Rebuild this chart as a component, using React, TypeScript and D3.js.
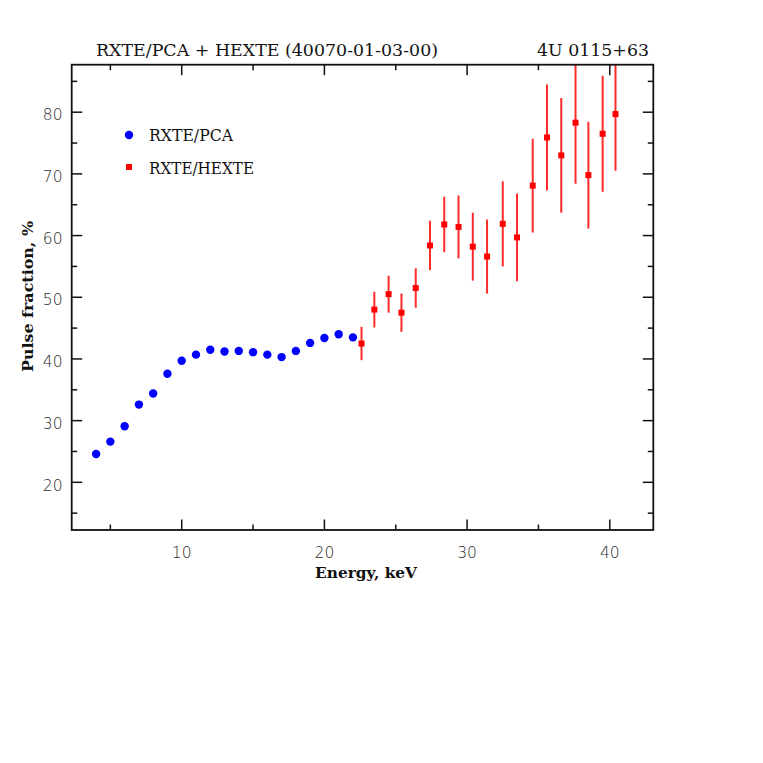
import React from "react";
import * as d3 from "d3";

const pcaEnergy = [4, 5, 6, 7, 8, 9, 10, 11, 12, 13, 14, 15, 16, 17, 18, 19, 20, 21, 22];
const pcaFraction = [24.6, 26.6, 29.1, 32.6, 34.4, 37.6, 39.7, 40.7, 41.5, 41.2, 41.3, 41.1, 40.7, 40.3, 41.3, 42.6, 43.4, 44.0, 43.5];

const hexteEnergy = [22.6, 23.5, 24.5, 25.4, 26.4, 27.4, 28.4, 29.4, 30.4, 31.4, 32.5, 33.5, 34.6, 35.6, 36.6, 37.6, 38.5, 39.5, 40.4];
const hexteFraction = [42.5, 48.0, 50.5, 47.5, 51.5, 58.4, 61.8, 61.4, 58.2, 56.6, 61.9, 59.7, 68.1, 75.9, 73.0, 78.3, 69.8, 76.5, 79.7];
const hexteError = [2.7, 2.9, 3.0, 3.1, 3.2, 4.0, 4.5, 5.1, 5.5, 6.0, 6.9, 7.1, 7.6, 8.6, 9.3, 9.9, 8.65, 9.4, 9.2];

const xMajor = [10, 20, 30, 40];
const xMinor = [5, 15, 25, 35];
const yMajor = [20, 30, 40, 50, 60, 70, 80];
const yMinor = [15, 25, 35, 45, 55, 65, 75, 85];

const titleLeft = "RXTE/PCA + HEXTE (40070-01-03-00)";
const titleRight = "4U 0115+63";
const xLabel = "Energy, keV";
const yLabel = "Pulse fraction, %";
const legendLabels = ["RXTE/PCA", "RXTE/HEXTE"];

export default function App() {
  const L = 71.7, R = 653.3, T = 64.7, B = 530;
  const x = d3.scaleLinear().domain([2.29, 43.05]).range([L, R]);
  const y = d3.scaleLinear().domain([12.27, 87.7]).range([B, T]);
  const serif = "'DejaVu Serif', serif";
  const sans = "'DejaVu Sans', sans-serif";
  const majorLen = 10.5, minorLen = 5.5;
  const axisColor = "#111";
  const tickLabelColor = "#2a2a2a";

  return (
    <svg width={763} height={763} style={{ position: "absolute", left: 0, top: 0, background: "#fff" }}>
      <defs>
        <clipPath id="plotClip">
          <rect x={L} y={T} width={R - L} height={B - T} />
        </clipPath>
      </defs>
      <rect x={0} y={0} width={763} height={763} fill="#fff" />

      {/* Title */}
      <text x={96} y={56} fontFamily={serif} fontSize={17.5} fill="#111" textLength={342} lengthAdjust="spacingAndGlyphs">{titleLeft}</text>
      <text x={537} y={56} fontFamily={serif} fontSize={17.5} fill="#111" textLength={112} lengthAdjust="spacingAndGlyphs">{titleRight}</text>

      {/* Ticks */}
      {xMajor.map((v) => (
        <g key={"xM" + v}>
          <line x1={x(v)} x2={x(v)} y1={B} y2={B - majorLen} stroke={axisColor} strokeWidth={1.5} />
          <line x1={x(v)} x2={x(v)} y1={T} y2={T + majorLen} stroke={axisColor} strokeWidth={1.5} />
          <text x={x(v)} y={558} textAnchor="middle" fontFamily={sans} fontSize={15.5} fontWeight={300} fill={tickLabelColor}>{v}</text>
        </g>
      ))}
      {xMinor.map((v) => (
        <g key={"xm" + v}>
          <line x1={x(v)} x2={x(v)} y1={B} y2={B - minorLen} stroke={axisColor} strokeWidth={1.5} />
          <line x1={x(v)} x2={x(v)} y1={T} y2={T + minorLen} stroke={axisColor} strokeWidth={1.5} />
        </g>
      ))}
      {yMajor.map((v) => (
        <g key={"yM" + v}>
          <line x1={L} x2={L + majorLen} y1={y(v)} y2={y(v)} stroke={axisColor} strokeWidth={1.5} />
          <line x1={R} x2={R - majorLen} y1={y(v)} y2={y(v)} stroke={axisColor} strokeWidth={1.5} />
          <text x={62.5} y={y(v) + 8.2} textAnchor="end" fontFamily={sans} fontSize={15.5} fontWeight={300} fill={tickLabelColor}>{v}</text>
        </g>
      ))}
      {yMinor.map((v) => (
        <g key={"ym" + v}>
          <line x1={L} x2={L + minorLen} y1={y(v)} y2={y(v)} stroke={axisColor} strokeWidth={1.5} />
          <line x1={R} x2={R - minorLen} y1={y(v)} y2={y(v)} stroke={axisColor} strokeWidth={1.5} />
        </g>
      ))}

      {/* HEXTE error bars */}
      <g clipPath="url(#plotClip)">
        {hexteEnergy.map((e, i) => (
          <line key={"eb" + i} x1={x(e)} x2={x(e)} y1={y(hexteFraction[i] - hexteError[i])} y2={y(hexteFraction[i] + hexteError[i])} stroke="#ff2a2a" strokeWidth={2} />
        ))}
      </g>

      {/* PCA points */}
      {pcaEnergy.map((e, i) => (
        <circle key={"p" + i} cx={x(e)} cy={y(pcaFraction[i])} r={4.2} fill="#0000ff" />
      ))}

      {/* HEXTE points */}
      {hexteEnergy.map((e, i) => (
        <rect key={"h" + i} x={x(e) - 3} y={y(hexteFraction[i]) - 3} width={6} height={6} fill="#ff0000" />
      ))}

      {/* Frame */}
      <rect x={L} y={T} width={R - L} height={B - T} fill="none" stroke={axisColor} strokeWidth={1.8} />

      {/* Legend */}
      <circle cx={129} cy={135} r={4.2} fill="#0000ff" />
      <text x={149} y={141} fontFamily={serif} fontSize={16.5} fill="#111" textLength={84} lengthAdjust="spacingAndGlyphs">{legendLabels[0]}</text>
      <rect x={126} y={164} width={6} height={6} fill="#ff0000" />
      <text x={149} y={173.5} fontFamily={serif} fontSize={16.5} fill="#111" textLength={105} lengthAdjust="spacingAndGlyphs">{legendLabels[1]}</text>

      {/* Axis labels */}
      <text x={315} y={578} fontFamily={serif} fontSize={15.5} fontWeight="bold" fill="#111" textLength={102} lengthAdjust="spacingAndGlyphs">{xLabel}</text>
      <text transform={`translate(32.5,${372}) rotate(-90)`} fontFamily={serif} fontSize={15.5} fontWeight="bold" fill="#111" textLength={151} lengthAdjust="spacingAndGlyphs">{yLabel}</text>
    </svg>
  );
}
